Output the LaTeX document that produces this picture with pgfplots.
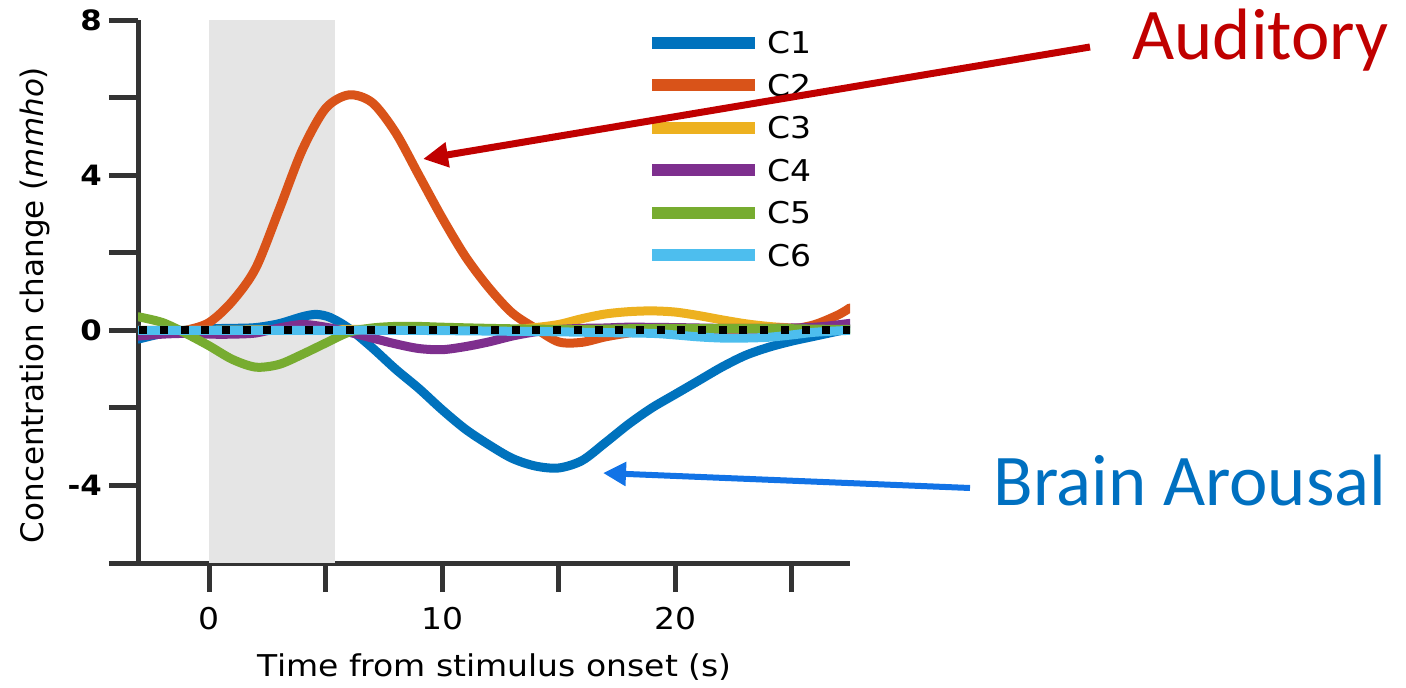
\documentclass[border=0pt]{standalone}
\usepackage{fontspec}
\setmainfont{DejaVu Sans}[FakeStretch=1.1]
\newfontfamily\plainfont{DejaVu Sans}
\newfontfamily\calibri{Carlito}
\usepackage{pgfplots}
\pgfplotsset{compat=1.18}
\usetikzlibrary{arrows.meta}
\definecolor{cA}{HTML}{0072BD}
\definecolor{cB}{HTML}{D95319}
\definecolor{cC}{HTML}{EDB120}
\definecolor{cD}{HTML}{7E2F8E}
\definecolor{cE}{HTML}{77AC30}
\definecolor{cF}{HTML}{4DBEEE}
\definecolor{axc}{HTML}{333333}
\definecolor{shade}{HTML}{E5E5E5}
\definecolor{audred}{HTML}{C00000}
\definecolor{arblue}{HTML}{1273E6}
\definecolor{txblue}{HTML}{0070C0}
\begin{document}
\begin{tikzpicture}
\begin{scope}[x=0.5pt,y=-0.5pt]
\path[use as bounding box] (0,0) rectangle (1406,686);
\end{scope}
\begin{axis}[
  at={(69pt,-281.5pt)}, anchor=south west,
  scale only axis, width=356pt, height=271.5pt,
  xmin=-3.05, xmax=27.5, ymin=-6, ymax=8,
  axis x line=bottom, axis y line=left,
  axis line style={-, axc, line width=2.5pt},
  tick align=outside, major tick length=14.5pt,
  tick style={axc, line width=2.5pt},
  xtick={0,5,10,15,20,25}, xticklabels={0,,10,,20,},
  ytick={-6,-4,-2,0,2,4,6,8}, yticklabels={,-4,,0,,4,,8},
  xticklabel style={font=\fontsize{15}{18}\selectfont, yshift=-4pt},
  yticklabel style={font=\fontsize{14}{16}\selectfont\bfseries},
  xlabel={Time from stimulus onset (s)},
  ylabel={\plainfont Concentration change (\textit{mmho})},
  xlabel style={font=\fontsize{15}{18}\selectfont, at={(axis description cs:0.501,-0.192)}, anchor=center},
  ylabel style={font=\fontsize{15.5}{18}\selectfont, at={(axis description cs:-0.145,0.475)}, anchor=center},
  legend style={at={(rel axis cs:0.7136,0.978)}, anchor=north west, draw=none, fill=none,
    font=\fontsize{15}{18}\selectfont, inner sep=0pt, outer sep=0pt, row sep=10.25pt,
    nodes={inner sep=0pt, text height=11pt, text depth=0pt},
    /tikz/every odd column/.style={column sep=3pt}},
  legend image code/.code={\draw[#1, line width=6pt, line cap=butt] (0pt,0pt) -- (51.5pt,0pt);},
  legend cell align=left,
  every axis plot/.append style={line width=4.5pt, smooth, line cap=round, line join=round},
]
\addplot[fill=shade, draw=none, forget plot, line width=0pt, sharp plot] coordinates {(0,-6) (5.4,-6) (5.4,8) (0,8)} -- cycle;

\addplot[cA] coordinates {
(-3.05,-0.23) (-2,-0.08) (-1,0.0) (0,0.04) (1,0.05) (2,0.07) (3,0.17) (4,0.35) (4.6,0.41) (5.2,0.33) (6,0.05)
(7,-0.45) (8,-1.0) (9,-1.5) (10,-2.05) (11,-2.55) (12,-2.95) (13,-3.3) (14,-3.5) (15,-3.55)
(16,-3.36) (17,-2.9) (18,-2.42) (19,-2.0) (20,-1.65) (21,-1.3) (22,-0.95) (23,-0.65)
(24,-0.44) (25,-0.28) (26,-0.15) (27,-0.02) (27.5,0.05)};
\addlegendentry{C1}
\addplot[cB] coordinates {
(-3.05,-0.12) (-2,-0.08) (-1,0.0) (0,0.2) (1,0.75) (2,1.6) (3,3.1) (4,4.65) (5,5.72) (6,6.07) (7,5.87)
(8,5.1) (9,4.0) (10,2.9) (11,1.9) (12,1.1) (13,0.45) (14,0.05) (15,-0.3) (16,-0.31) (17,-0.17)
(18,-0.07) (19,0.0) (20,0.02) (21,0.02) (22,0.0) (23,0.0) (24,0.0) (25,0.03) (26,0.15) (27,0.4) (27.5,0.58)};
\addlegendentry{C2}
\addplot[cC] coordinates {
(-3.05,0.0) (0,0.0) (4,0.02) (8,0.02) (11,0.0) (13,0.02) (14,0.07) (15,0.15) (16,0.3) (17,0.42) (18,0.48)
(19,0.5) (20,0.47) (21,0.38) (22,0.27) (23,0.17) (24,0.1) (25,0.06) (26,0.04) (27.5,0.03)};
\addlegendentry{C3}
\addplot[cD] coordinates {
(-3.05,-0.15) (-2,-0.1) (-1,-0.08) (0,-0.1) (1,-0.1) (2,-0.07) (3,0.06) (4,0.15) (5,0.08) (6,-0.05)
(7,-0.2) (8,-0.35) (9,-0.47) (10,-0.5) (11,-0.42) (12,-0.3) (13,-0.15) (14,-0.04) (15,0.02) (16,0.05)
(17,0.06) (18,0.08) (20,0.07) (22,0.05) (24,0.05) (26,0.08) (27.5,0.18)};
\addlegendentry{C4}
\addplot[cE] coordinates {
(-3.05,0.35) (-2,0.2) (-1,-0.08) (0,-0.4) (1,-0.75) (2,-0.95) (3,-0.88) (4,-0.62) (5,-0.33)
(6,-0.05) (7,0.06) (8,0.1) (9,0.1) (10,0.08) (12,0.05) (14,0.03) (16,0.02) (18,0.04) (20,0.05) (22,0.05)
(24,0.05) (26,0.03) (27.5,0.02)};
\addlegendentry{C5}
\addplot[cF] coordinates {
(-3.05,0.0) (0,0.0) (4,0.0) (8,0.0) (12,-0.02) (15,-0.04) (17,-0.06) (19,-0.08) (20,-0.12) (21,-0.17)
(22,-0.2) (23,-0.2) (24,-0.18) (25,-0.12) (26,-0.05) (27.5,0.0)};
\addlegendentry{C6}
\addplot[black, line width=4pt, line cap=butt, dash pattern=on 4pt off 6.35pt, sharp plot, forget plot] coordinates {(-3.0,0) (27.5,0)};
\end{axis}
\begin{scope}[x=0.5pt,y=-0.5pt]
\draw[audred, line width=3.5pt, -{Triangle[length=12.5pt,width=12pt]}] (1090,47) -- (423,159);
\draw[arblue, line width=3pt, -{Triangle[length=11.5pt,width=11.5pt]}] (970,488) -- (603,473);
\node[anchor=base west, inner sep=0pt, text=audred, font=\calibri\fontsize{36.4}{40}\selectfont] at (1132,60) {Auditory};
\node[anchor=base west, inner sep=0pt, text=txblue, font=\calibri\fontsize{36.4}{40}\selectfont] at (993,505) {Brain Arousal};
\end{scope}
\end{tikzpicture}
\end{document}
